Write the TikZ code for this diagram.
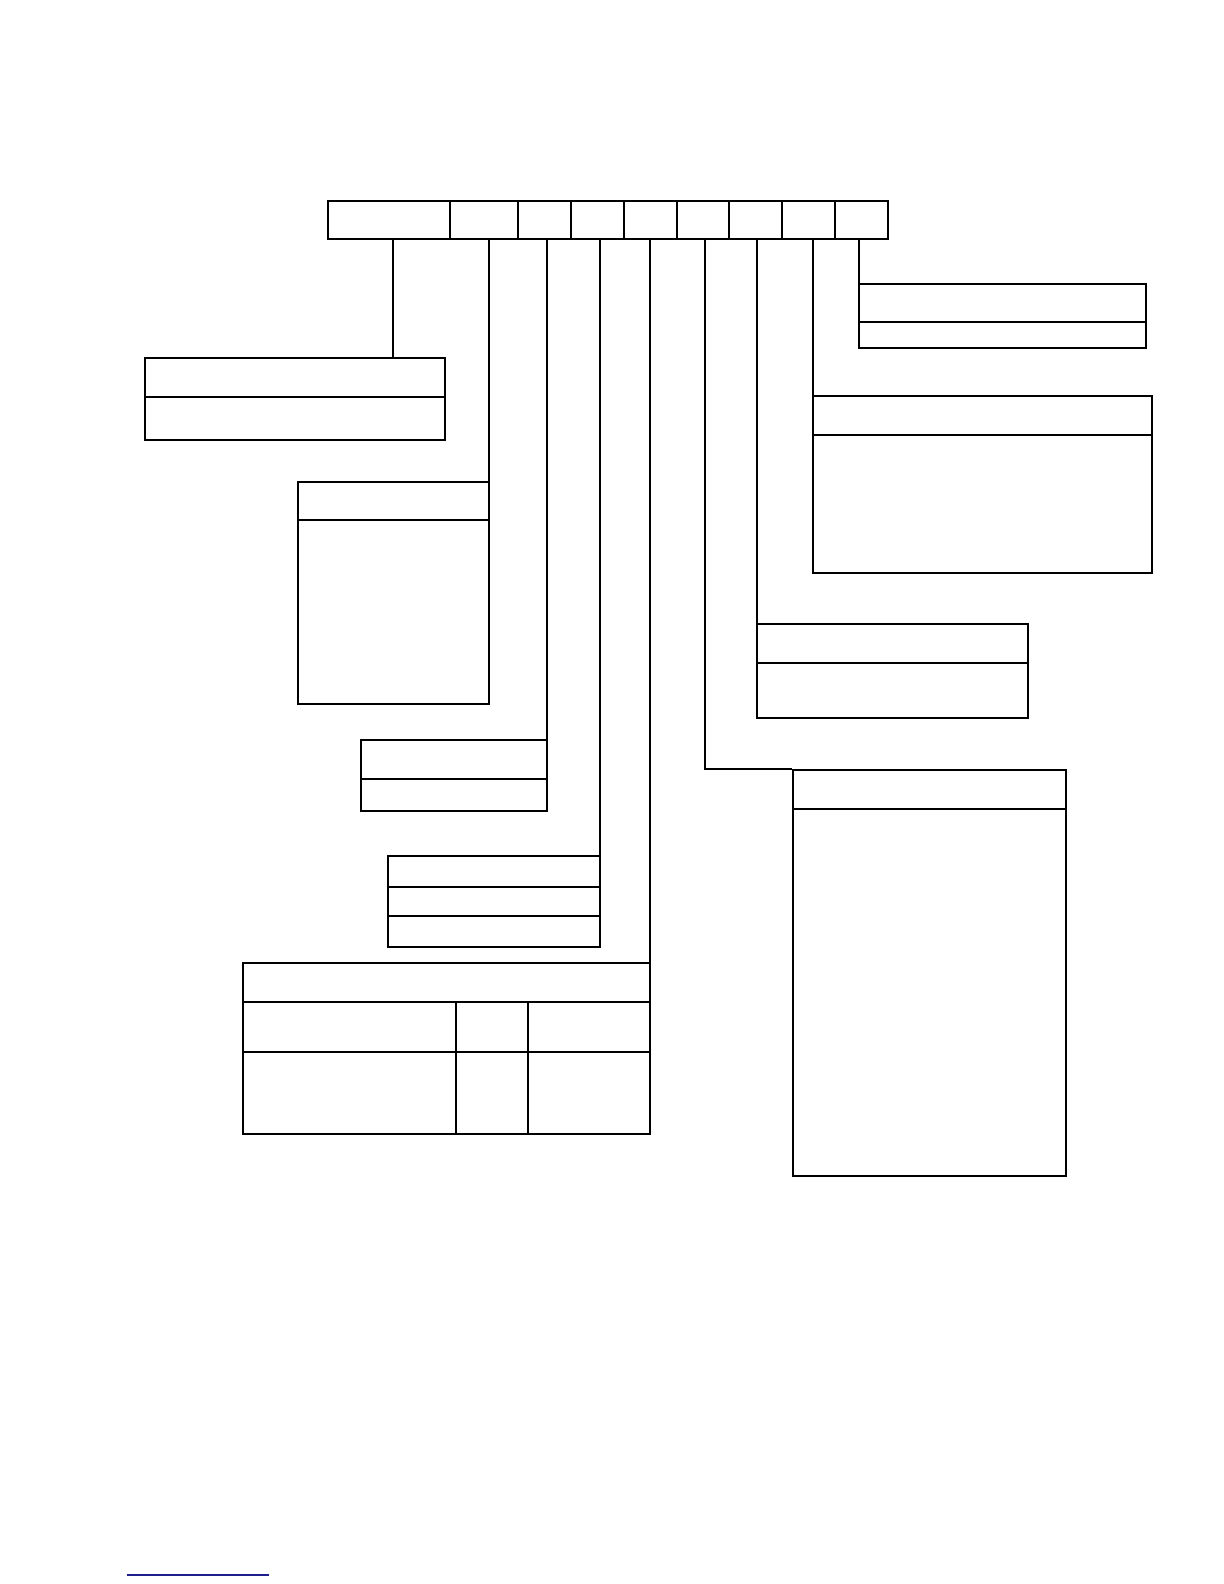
\documentclass[tikz,border=0pt]{standalone}
\usepackage{tikz}
\usetikzlibrary{fit}
\definecolor{linkblue}{RGB}{30,30,140}

\begin{document}
\begin{tikzpicture}[x=0.5bp, y=-0.5bp, line width=0.9pt,
  box/.style={draw, rectangle, inner sep=0pt, fit={#1}}]
\useasboundingbox (0,0) rectangle (1224,1584);

% Barra superiore
\node[box={(328,201) (888,239)}] (bar) {};
\foreach \x in {450,518,571,624,677,729,782,835}
  \draw (\x,201) -- (\x,239);

% Punti di partenza dei collegamenti
\foreach \n/\x in {a/393,b/489,c/547,d/600,e/650,f/705,g/757,h/813,i/859}
  \coordinate (t\n) at (\x,239);

% Riquadri
\node[box={(145,358) (445,440)}] (A) {};
\draw (145,397) -- (445,397);

\node[box={(298,482) (489,704)}] (B) {};
\draw (298,520) -- (489,520);

\node[box={(361,740) (547,811)}] (C) {};
\draw (361,779) -- (547,779);

\node[box={(388,856) (600,947)}] (D) {};
\draw (388,887) -- (600,887);
\draw[line width=0.6pt] (388,916) -- (600,916);

\node[box={(243,963) (650,1134)}] (E) {};
\draw (243,1002) -- (650,1002);
\draw (243,1052) -- (650,1052);
\draw (456,1002) -- (456,1134);
\draw (528,1002) -- (528,1134);

\node[box={(793,770) (1066,1176)}] (F) {};
\draw (793,809) -- (1066,809);

\node[box={(757,624) (1028,718)}] (G) {};
\draw (757,663) -- (1028,663);

\node[box={(813,396) (1152,573)}] (H) {};
\draw (813,435) -- (1152,435);

\node[box={(859,284) (1146,348)}] (I) {};
\draw (859,322) -- (1146,322);

% Collegamenti
\draw (ta) -- (ta |- A.north);
\draw (tb) -- (tb |- B.north);
\draw (tc) -- (tc |- C.north);
\draw (td) -- (td |- D.north);
\draw (te) -- (te |- E.north);
\draw (tf) |- (F.north west);
\draw (tg) -- (tg |- G.north);
\draw (th) -- (th |- H.north);
\draw (ti) -- (ti |- I.north);

% Linea blu in basso
\draw[linkblue, line width=0.6pt] (127,1575) -- (269,1575);

\end{tikzpicture}
\end{document}
